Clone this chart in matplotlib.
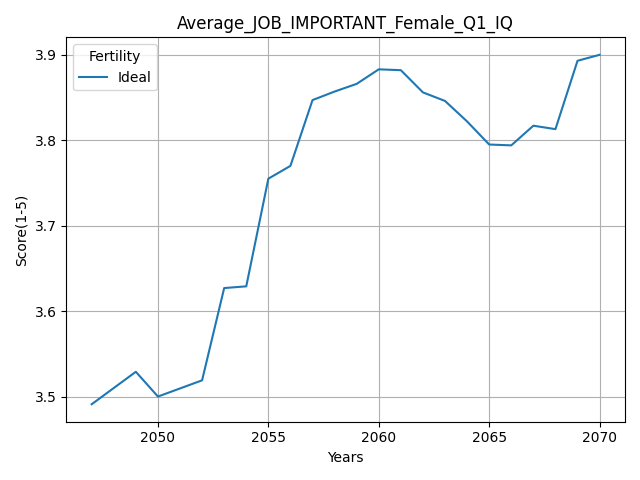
import matplotlib
matplotlib.use("Agg")
import matplotlib.pyplot as plt
from matplotlib.ticker import MultipleLocator

years = [2047, 2049, 2050, 2052, 2053, 2054, 2055, 2056, 2057, 2058, 2059,
         2060, 2061, 2062, 2063, 2064, 2065, 2066, 2067, 2068, 2069, 2070]
ideal = [3.491, 3.529, 3.500, 3.519, 3.627, 3.629, 3.755, 3.770, 3.847, 3.857, 3.866,
         3.883, 3.882, 3.856, 3.846, 3.822, 3.795, 3.794, 3.817, 3.813, 3.893, 3.900]

fig, ax = plt.subplots(figsize=(6.4, 4.8), dpi=100)
ax.plot(years, ideal, label="Ideal")
ax.set_title("Average_JOB_IMPORTANT_Female_Q1_IQ")
ax.set_xlabel("Years")
ax.set_ylabel("Score(1-5)")
ax.yaxis.set_major_locator(MultipleLocator(0.1))
ax.grid(True)
ax.legend(title="Fertility", loc="upper left")
plt.tight_layout()
plt.savefig("out.png")
